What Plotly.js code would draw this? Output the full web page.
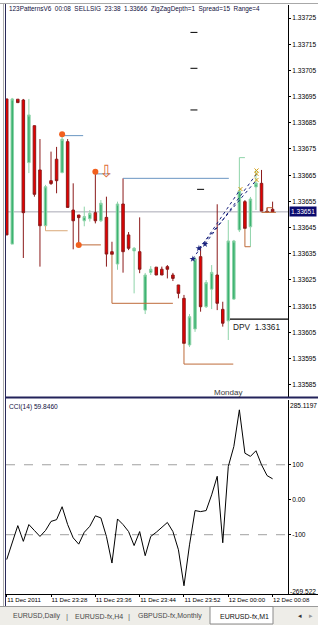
<!DOCTYPE html>
<html><head><meta charset="utf-8">
<script src="https://cdn.plot.ly/plotly-3.0.1.min.js"></script>
<style>html,body{margin:0;padding:0;background:#fff;overflow:hidden}#chart{width:318px;height:625px}</style>
</head><body><div id="chart"></div>
<script>
// ---------- data ----------
const times = ['23:20','23:21','23:22','23:23','23:24','23:25','23:26','23:27','23:28','23:29',
 '23:30','23:31','23:32','23:33','23:34','23:35','23:36','23:37','23:38','23:39',
 '23:40','23:41','23:42','23:43','23:44','23:45','23:46','23:47','23:48','23:49',
 '23:50','23:51','23:52','23:53','23:54','23:55','23:56','23:57','23:58','23:59',
 '00:00','00:01','00:02','00:03','00:04','00:05','00:06','00:07','00:08'];
const open = [1.336941,1.336387,1.336940,1.336937,1.336698,1.336839,1.336670,1.336457,1.336629,1.336711,
 1.336660,1.336778,1.336517,1.336498,1.336476,1.336484,1.336507,1.336476,1.336489,1.336358,
 1.336311,1.336540,1.336422,1.336361,1.336358,1.336135,1.336279,1.336299,1.336291,1.336301,
 1.336269,1.336231,1.336180,1.336002,1.336063,1.336339,1.336148,1.336215,1.336269,1.336138,
 1.336094,1.336177,1.336441,1.336549,1.336453,1.336605,1.336619,1.336512,1.336520];
const high = [1.336941,1.336945,1.336940,1.336941,1.336941,1.336839,1.336788,1.336613,1.336740,1.336758,
 1.336806,1.336788,1.336619,1.336498,1.336530,1.336517,1.336663,1.336555,1.336568,1.336396,
 1.336549,1.336638,1.336433,1.336376,1.336489,1.336277,1.336303,1.336299,1.336301,1.336307,
 1.336277,1.336231,1.336193,1.336120,1.336338,1.336375,1.336250,1.336307,1.336539,1.336167,
 1.336479,1.336403,1.336717,1.336555,1.336567,1.336670,1.336670,1.336526,1.336549];
const low = [1.336422,1.336387,1.336927,1.336334,1.336658,1.336568,1.336301,1.336457,1.336613,1.336581,
 1.336657,1.336527,1.336367,1.336384,1.336455,1.336473,1.336466,1.336471,1.336301,1.336348,
 1.336289,1.336278,1.336364,1.336199,1.336276,1.336120,1.336269,1.336269,1.336269,1.336256,
 1.336246,1.336180,1.336008,1.335994,1.336052,1.336129,1.336143,1.336139,1.336135,1.336072,
 1.336021,1.336174,1.336433,1.336447,1.336377,1.336517,1.336513,1.336508,1.336510];
const close = [1.336422,1.336941,1.336927,1.336507,1.336880,1.336577,1.336457,1.336606,1.336618,1.336629,
 1.336787,1.336527,1.336476,1.336488,1.336492,1.336504,1.336476,1.336543,1.336349,1.336348,
 1.336540,1.336358,1.336371,1.336371,1.336291,1.336269,1.336291,1.336269,1.336269,1.336291,
 1.336256,1.336199,1.336008,1.336110,1.336330,1.336148,1.336240,1.336279,1.336161,1.336085,
 1.336399,1.336399,1.336590,1.336447,1.336559,1.336620,1.336513,1.336510,1.336510];
const cci = [-171,-119,-74,-119,-71,-88,-105,-88,-62,-57,
 -20,-71,-109,-127,-93,-76,-46,-52,-105,-181,
 -55,-71,-91,-131,-91,-160,-105,-93,-80,-65,
 -91,-143,-246,-129,-31,-34,-31,14,67,-123,
 95,152,257,133,124,140,100,69,59.846];
const cciLast = 59.8460;
const timeTickAt = ['23:20','23:28','23:36','23:44','23:52','00:00','00:08'];
const timeTickText = ['11 Dec 2011','11 Dec 23:28','11 Dec 23:36','11 Dec 23:44','11 Dec 23:52','12 Dec 00:00','12 Dec 00:08'];
const priceTicks = [1.33585,1.33595,1.33605,1.33615,1.33625,1.33635,1.33645,1.33655,1.33665,1.33675,1.33685,1.33695,1.33705,1.33715,1.33725];
const cciMax = 285.1197, cciMin = -269.522;
const cciMidTicks = [100,0,-100];
const cciMidText = ['100','0.00','-100'];
const cciLevels = [100,-100];
const bid = 1.33651;
const headerText = ['123PatternsV6','00:08','SELLSIG','23:38','1.33666','ZigZagDepth=1','Spread=15','Range=4'];
// indicator marks (x in bar units, y in price)
const pivotX = [10,13,16];
const pivotY = [1.336806,1.336384,1.336663];
const rangeDashX = [33.8,33.8,33.8,35];
const rangeDashY = [1.337195,1.337058,1.336899,1.336596];
const blueLineX = [10,13.8,null,16,18.7,null,21,40.1];
const blueLineY = [1.336801,1.336801,null,1.336655,1.336655,null,1.336638,1.336638];
const tanLineX = [7,7,11];
const tanLineY = [1.336457,1.336438,1.336438];
const brownLineX = [13,17,null,19,19,30,null,32,32,40.9,null,43,43,44,null,47,47,48,null,46,48.6];
const brownLineY = [1.336384,1.336384,null,1.336348,1.336161,1.336161,null,1.336008,1.335929,1.335929,null,1.336447,1.336377,1.336377,null,1.336508,1.336526,1.336526,null,1.336508,1.336508];
const greenLineX = [42,43];
const greenLineY = [1.336717,1.336717];
const trendX = [33.6,42.2,null,34.7,45.1,null,35.8,45.1];
const trendY = [1.336330,1.336597,null,1.336371,1.336632,null,1.336387,1.336655];
const trendStartX = [33.6,34.7,35.8];
const trendStartY = [1.336330,1.336371,1.336387];
const trendEndX = [42.2,45.1,45.1,45.1];
const trendEndY = [1.336597,1.336632,1.336655,1.336668];
const arrowX = [18];
const arrowY = [1.33666];
const dpvStart = 40.3;
const dpvLevel = 1.336101;
const dpvShown = 1.3361;
const dayBreak = '00:00';
const tabs = ['EURUSD,Daily','EURUSD-fx,H4','GBPUSD-fx,Monthly','EURUSD-fx,M1'];

// ---------- helpers (layout px -> paper) ----------
const W = 318, H = 625;
const PX = p => p / W, PY = p => 1 - p / H;
const xi = times.map((t, i) => i);
const FONT = 'Liberation Sans, Arial, sans-serif';

const traces = [
  {type:'candlestick', x:xi, open, high, low, close, xaxis:'x', yaxis:'y',
   increasing:{fillcolor:'#3CB371', line:{color:'#8FD4AA', width:1}},
   decreasing:{fillcolor:'#E40000', line:{color:'#8B1A1A', width:1}},
   whiskerwidth:0, hoverinfo:'skip', showlegend:false},
  {type:'scatter', mode:'lines', x:tanLineX, y:tanLineY, line:{color:'#D9A878', width:1}, hoverinfo:'skip'},
  {type:'scatter', mode:'lines', x:brownLineX, y:brownLineY, line:{color:'#BE6B3A', width:1}, hoverinfo:'skip'},
  {type:'scatter', mode:'lines', x:blueLineX, y:blueLineY, line:{color:'#6A96C2', width:1}, hoverinfo:'skip'},
  {type:'scatter', mode:'lines', x:greenLineX, y:greenLineY, line:{color:'#8FD4AA', width:1}, hoverinfo:'skip'},
  {type:'scatter', mode:'lines', x:trendX, y:trendY, line:{color:'#1A237E', width:1, dash:'dot'}, hoverinfo:'skip'},
  {type:'scatter', mode:'markers', x:trendStartX, y:trendStartY, marker:{symbol:'star', size:5, color:'#1A237E'}, hoverinfo:'skip'},
  {type:'scatter', mode:'markers', x:trendEndX, y:trendEndY, marker:{symbol:'x-thin-open', size:4, color:'#D4A017', line:{color:'#D4A017', width:1}}, hoverinfo:'skip'},
  {type:'scatter', mode:'markers', x:rangeDashX, y:rangeDashY, marker:{symbol:'line-ew-open', size:5, color:'#000', line:{color:'#000', width:1}}, hoverinfo:'skip'},
  {type:'scatter', mode:'markers', x:pivotX, y:pivotY, marker:{size:6, color:'#F2601E'}, hoverinfo:'skip'},
  {type:'scatter', mode:'text', x:arrowX, y:arrowY, text:arrowX.map(()=>'\u21E9'), textfont:{family:'DejaVu Sans', size:17, color:'#E0703A'}, hoverinfo:'skip'},
  {type:'scatter', mode:'lines', x:[dpvStart, xi.length + 4], y:[dpvLevel, dpvLevel], line:{color:'#000', width:1.3}, hoverinfo:'skip'},
  {type:'scatter', mode:'lines', x:xi, y:cci, xaxis:'x', yaxis:'y2', line:{color:'#000', width:1}, hoverinfo:'skip'}
];

const shapes = [
  {type:'line', xref:'x domain', x0:0, x1:1, yref:'y', y0:bid, y1:bid, line:{color:'#A8A8B4', width:1}, layer:'below'},
  ...cciLevels.map(v => ({type:'line', xref:'x domain', x0:0, x1:1, yref:'y2', y0:v, y1:v, line:{color:'#A0A0A0', width:1, dash:'dash'}, layer:'below'})),
  // window chrome
  {type:'line', xref:'paper', yref:'paper', x0:0, x1:1, y0:PY(3.5), y1:PY(3.5), line:{color:'#A8A8A8', width:1}},
  {type:'line', xref:'paper', yref:'paper', x0:PX(3.5), x1:PX(3.5), y0:PY(4), y1:PY(606), line:{color:'#B0B0B0', width:1}},
  {type:'line', xref:'paper', yref:'paper', x0:PX(5.5), x1:PX(5.5), y0:PY(4), y1:PY(606), line:{color:'#2A2A5A', width:1}},
  {type:'rect', xref:'paper', yref:'paper', x0:PX(5), x1:1, y0:PY(398.5), y1:PY(396.5), fillcolor:'#23235A', line:{width:0}},
  {type:'line', xref:'paper', yref:'paper', x0:PX(5), x1:1, y0:PY(594.5), y1:PY(594.5), line:{color:'#000', width:1}},
  {type:'rect', xref:'paper', yref:'paper', x0:0, x1:1, y0:0, y1:PY(606), fillcolor:'#EEEDE8', line:{width:0}},
  {type:'line', xref:'paper', yref:'paper', x0:0, x1:1, y0:PY(606.5), y1:PY(606.5), line:{color:'#9A9A9A', width:1}},
  {type:'rect', xref:'paper', yref:'paper', x0:PX(210), x1:PX(273), y0:PY(624), y1:PY(606.5), fillcolor:'#FFFFFF', line:{color:'#8A8A8A', width:1}}
];

const annotations = [
  {xref:'paper', yref:'paper', x:PX(7), y:PY(9), xanchor:'left', yanchor:'middle', showarrow:false,
   text:headerText.join('\u00a0\u00a0'), font:{family:FONT, size:6.4, color:'#101040'}},
  {xref:'paper', yref:'paper', x:PX(7), y:PY(407), xanchor:'left', yanchor:'middle', showarrow:false,
   text:'CCI(14) ' + cciLast.toFixed(4), font:{family:FONT, size:6.6, color:'#101040'}},
  {xref:'x domain', x:1, xanchor:'left', xshift:1, yref:'y', y:bid, yanchor:'middle', showarrow:false,
   text:bid.toFixed(5), bgcolor:'#0A0A6E', borderpad:1, font:{family:FONT, size:6.6, color:'#FFFFFF'}},
  {xref:'x domain', x:1, xanchor:'left', xshift:0, yref:'y2', y:cciMax, yanchor:'middle', yshift:-5, showarrow:false,
   text:String(cciMax), font:{family:FONT, size:6.6, color:'#000'}},
  {xref:'x domain', x:1, xanchor:'left', xshift:0, yref:'y2', y:cciMin, yanchor:'middle', yshift:3, showarrow:false,
   text:String(cciMin), font:{family:FONT, size:6.6, color:'#000'}},
  {xref:'x', x:dpvStart + 0.2, xanchor:'left', yref:'y', y:dpvLevel, yanchor:'top', yshift:-0.5, showarrow:false,
   text:'DPV\u00a0\u00a0' + dpvShown.toFixed(4), font:{family:FONT, size:8.3, color:'#1A1A1A'}},
  {xref:'x', x:times.indexOf(dayBreak), xanchor:'center', yref:'paper', y:PY(392), yanchor:'middle', showarrow:false,
   text:'Monday', font:{family:FONT, size:8, color:'#3A3A3A'}},
  {xref:'paper', yref:'paper', x:PX(11), y:PY(616), xanchor:'left', yanchor:'middle', showarrow:false, text:tabs[0], font:{family:FONT, size:7, color:'#4A4A4A'}},
  {xref:'paper', yref:'paper', x:PX(67), y:PY(616), xanchor:'center', yanchor:'middle', showarrow:false, text:'|', font:{family:FONT, size:8, color:'#6A6A6A'}},
  {xref:'paper', yref:'paper', x:PX(73), y:PY(616), xanchor:'left', yanchor:'middle', showarrow:false, text:tabs[1], font:{family:FONT, size:7, color:'#4A4A4A'}},
  {xref:'paper', yref:'paper', x:PX(129), y:PY(616), xanchor:'center', yanchor:'middle', showarrow:false, text:'|', font:{family:FONT, size:8, color:'#6A6A6A'}},
  {xref:'paper', yref:'paper', x:PX(136), y:PY(616), xanchor:'left', yanchor:'middle', showarrow:false, text:tabs[2], font:{family:FONT, size:7, color:'#4A4A4A'}},
  {xref:'paper', yref:'paper', x:PX(218), y:PY(616), xanchor:'left', yanchor:'middle', showarrow:false, text:tabs[3], font:{family:FONT, size:7, color:'#101010'}},
  {xref:'paper', yref:'paper', x:PX(300), y:PY(616), xanchor:'center', yanchor:'middle', showarrow:false, text:'\u25C2', font:{family:'DejaVu Sans', size:7, color:'#333'}},
  {xref:'paper', yref:'paper', x:PX(311), y:PY(616), xanchor:'center', yanchor:'middle', showarrow:false, text:'\u25B8', font:{family:'DejaVu Sans', size:7, color:'#999'}}
];

const layout = {
  width:W, height:H, autosize:false, margin:{l:0, r:0, t:0, b:0, pad:0},
  paper_bgcolor:'#FFFFFF', plot_bgcolor:'#FFFFFF', showlegend:false,
  boxgap:0.35, boxgroupgap:0.3,
  font:{family:FONT, size:6.6, color:'#000'},
  xaxis:{domain:[PX(6), PX(288)], range:[-0.13, 50.78], anchor:'y2', showline:false,
    ticks:'outside', ticklen:2, tickcolor:'#000', tickvals:timeTickAt.map(t => times.indexOf(t)), ticktext:timeTickText,
    tickangle:0, ticklabelposition:'outside right', ticklabeloverflow:'allow', tickfont:{family:FONT, size:6.1, color:'#000'},
    showgrid:false, zeroline:false, rangeslider:{visible:false}, fixedrange:true},
  yaxis:{domain:[PY(397), PY(5)], range:[1.3358034, 1.3372996], side:'right', anchor:'x',
    showline:true, linecolor:'#000', linewidth:1, ticks:'outside', ticklen:2, tickcolor:'#000',
    tickvals:priceTicks, tickformat:'.5f', tickfont:{family:FONT, size:6.6, color:'#000'},
    showgrid:false, zeroline:false, fixedrange:true},
  yaxis2:{domain:[PY(594), PY(400)], range:[cciMin, cciMax], side:'right', anchor:'x',
    showline:true, linecolor:'#000', linewidth:1, ticks:'outside', ticklen:2, tickcolor:'#000',
    tickvals:cciMidTicks, ticktext:cciMidText, tickfont:{family:FONT, size:6.6, color:'#000'},
    showgrid:false, zeroline:false, fixedrange:true},
  shapes, annotations
};

Plotly.newPlot('chart', traces, layout, {staticPlot:true, displayModeBar:false});
</script>
</body></html>
